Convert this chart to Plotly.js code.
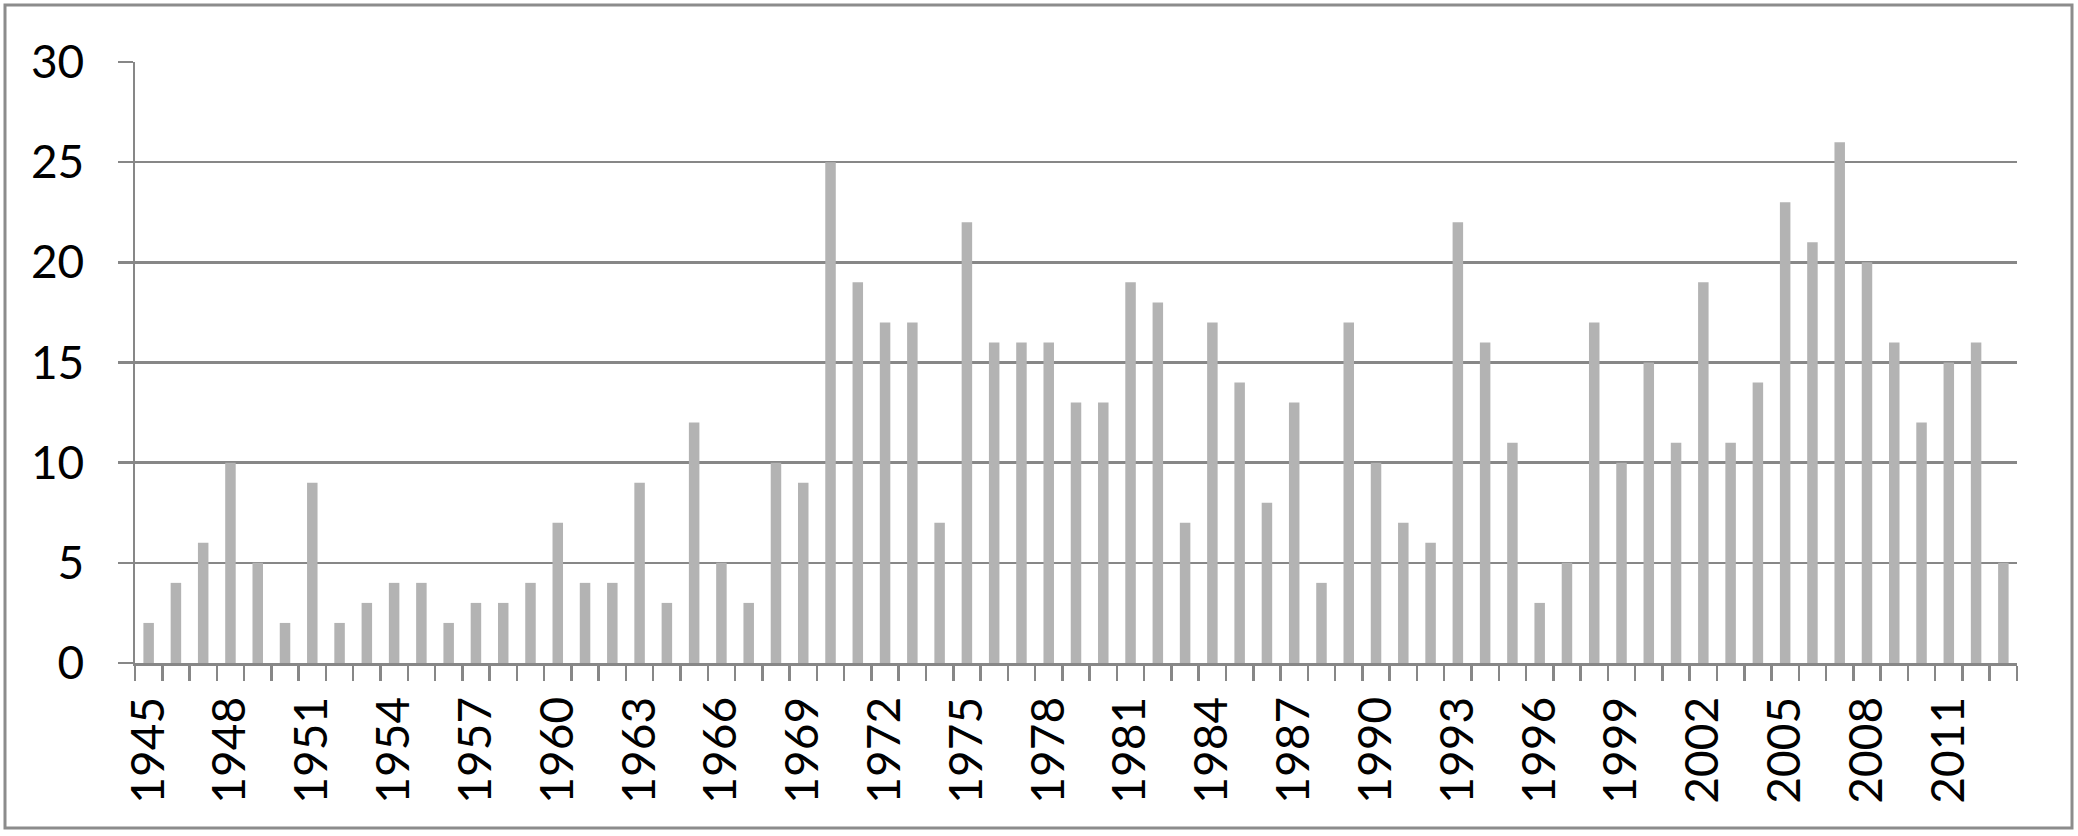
<!DOCTYPE html>
<html>
<head>
<meta charset="utf-8">
<script src="https://cdn.plot.ly/plotly-3.0.1.min.js"></script>
<style>
  html, body { margin: 0; padding: 0; background: #ffffff; }
  #chart { width: 2078px; height: 836px; }
</style>
</head>
<body>
<div id="chart"></div>
<script>
const years = [1945,1946,1947,1948,1949,1950,1951,1952,1953,1954,1955,1956,1957,1958,1959,
  1960,1961,1962,1963,1964,1965,1966,1967,1968,1969,1970,1971,1972,1973,1974,
  1975,1976,1977,1978,1979,1980,1981,1982,1983,1984,1985,1986,1987,1988,1989,
  1990,1991,1992,1993,1994,1995,1996,1997,1998,1999,2000,2001,2002,2003,2004,
  2005,2006,2007,2008,2009,2010,2011,2012,2013];
const counts = [2,4,6,10,5,2,9,2,3,4,4,2,3,3,4,
  7,4,4,9,3,12,5,3,10,9,25,19,17,17,7,
  22,16,16,16,13,13,19,18,7,17,14,8,13,4,17,
  10,7,6,22,16,11,3,5,17,10,15,11,19,11,14,
  23,21,26,20,16,12,15,16,5];
const labelYears = years.filter((y, i) => i % 3 === 0);
const labelText = labelYears.map(String);
const yTicks = [0,5,10,15,20,25,30];

const axisGray = '#878787';
const fontFamily = 'Lato, "DejaVu Sans", sans-serif';

const trace = {
  type: 'bar',
  x: years,
  y: counts,
  marker: { color: '#b3b3b3', line: { width: 0 } },
  hoverinfo: 'x+y'
};

const layout = {
  width: 2078,
  height: 836,
  margin: { l: 135, r: 61, t: 62, b: 173, pad: 0 },
  paper_bgcolor: '#ffffff',
  plot_bgcolor: '#ffffff',
  showlegend: false,
  bargap: 0.615,
  font: { family: fontFamily, size: 46, color: '#000000' },
  xaxis: {
    type: 'linear',
    range: [years[0] - 0.5, years[years.length - 1] + 0.5],
    tickmode: 'array',
    tickvals: labelYears,
    ticktext: labelText,
    tickangle: -90,
    ticks: '',
    ticklen: 0,
    ticklabelstandoff: 13,
    showgrid: false,
    zeroline: false,
    showline: true,
    linecolor: axisGray,
    linewidth: 2.5,
    tickfont: { family: fontFamily, size: 46, color: '#000000' },
    minor: {
      tick0: years[0] - 0.5,
      dtick: 1,
      ticks: 'outside',
      ticklen: 15,
      tickwidth: 2.5,
      tickcolor: axisGray,
      showgrid: false
    },
    fixedrange: true
  },
  yaxis: {
    range: [0, 30],
    tickmode: 'array',
    tickvals: yTicks,
    ticktext: yTicks.map(String),
    ticks: 'outside',
    ticklen: 15,
    tickwidth: 2.5,
    tickcolor: axisGray,
    ticklabelstandoff: 24,
    showgrid: true,
    gridcolor: axisGray,
    gridwidth: 2.5,
    zeroline: false,
    showline: true,
    linecolor: axisGray,
    linewidth: 2.5,
    tickfont: { family: fontFamily, size: 46, color: '#000000' },
    fixedrange: true
  },
  shapes: [{
    type: 'rect',
    xref: 'paper', yref: 'paper',
    x0: (5 - 135) / 1882, x1: (2072 - 135) / 1882,
    y0: (663 - 828) / 601, y1: (663 - 5) / 601,
    line: { color: '#8c8c8c', width: 3 },
    fillcolor: 'rgba(0,0,0,0)',
    layer: 'below'
  }]
};

Plotly.newPlot('chart', [trace], layout, { displayModeBar: false, staticPlot: true });
</script>
</body>
</html>
